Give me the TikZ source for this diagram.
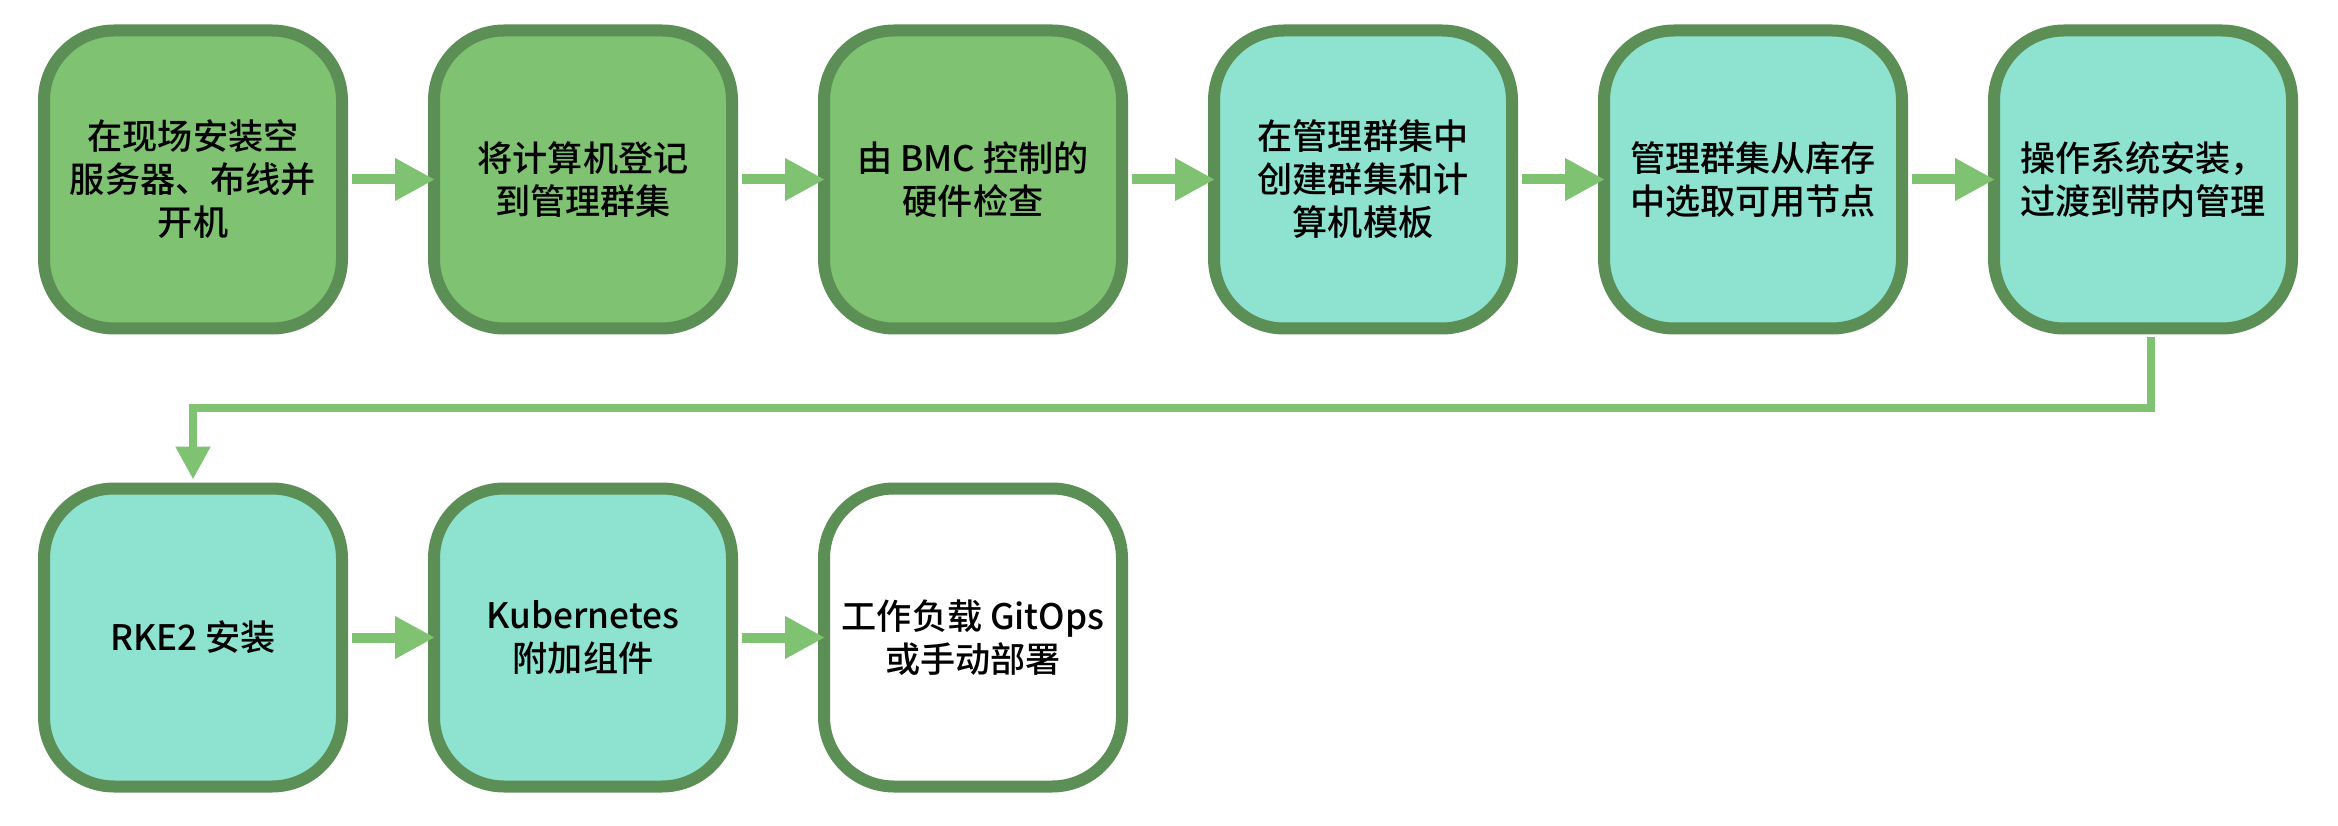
\documentclass[tikz,border=0pt]{standalone}
\usepackage{fontspec}
\setmainfont{Noto Sans CJK SC}[BoldFont={* Medium}]
\usetikzlibrary{positioning,arrows.meta}
\definecolor{stagegreen}{HTML}{7EC272}
\definecolor{stageteal}{HTML}{8DE2D0}
\definecolor{stageedge}{HTML}{5C8F55}

\begin{document}
\begin{tikzpicture}[node distance=1.6cm,
    stage/.style={draw=stageedge, line width=0.24cm, rounded corners=1.4cm,
                  minimum width=5.96cm, minimum height=5.96cm, align=center,
                  font=\fontsize{20}{24.5}\selectfont\bfseries},
    flow/.style={stagegreen, line width=0.2cm,
                 -{Triangle[length=0.8cm,width=0.8cm]}},
    link/.style={stagegreen, line width=0.16cm,
                 -{Triangle[length=0.66cm,width=0.66cm]}}]

  \useasboundingbox (0,0) rectangle (46.76,-16.52);

  \node [stage, fill=stagegreen] (Rack) at (3.86,-3.59)
        {在现场安装空\\服务器、布线并\\开机};
  \node [stage, fill=stagegreen, right=of Rack] (Enroll)
        {将计算机登记\\到管理群集};
  \node [stage, fill=stagegreen, right=of Enroll] (Inspect)
        {由 BMC 控制的\\硬件检查};
  \node [stage, fill=stageteal, right=of Inspect] (Template)
        {在管理群集中\\创建群集和计\\算机模板};
  \node [stage, fill=stageteal, right=of Template] (Select)
        {管理群集从库存\\中选取可用节点};
  \node [stage, fill=stageteal, right=of Select] (OS)
        {操作系统安装，\\过渡到带内管理};

  \node [stage, fill=stageteal, below=2.96cm of Rack] (RKE)
        {RKE2 安装};
  \node [stage, fill=stageteal, right=of RKE] (Addons)
        {Kubernetes\\附加组件};
  \node [stage, fill=white, right=of Addons] (Workload)
        {工作负载 GitOps\\或手动部署};

  \draw [flow] ([xshift=0.08cm]Rack.east) -- ([xshift=0.14cm]Enroll.west);
  \draw [flow] ([xshift=0.08cm]Enroll.east) -- ([xshift=0.14cm]Inspect.west);
  \draw [flow] ([xshift=0.08cm]Inspect.east) -- ([xshift=0.14cm]Template.west);
  \draw [flow] ([xshift=0.08cm]Template.east) -- ([xshift=0.14cm]Select.west);
  \draw [flow] ([xshift=0.08cm]Select.east) -- ([xshift=0.14cm]OS.west);
  \draw [flow] ([xshift=0.08cm]RKE.east) -- ([xshift=0.14cm]Addons.west);
  \draw [flow] ([xshift=0.08cm]Addons.east) -- ([xshift=0.14cm]Workload.west);

  \draw [link] ([xshift=0.16cm,yshift=-0.06cm]OS.south) -- ++(0,-1.42)
        -| ([yshift=0.06cm]RKE.north);

\end{tikzpicture}
\end{document}
